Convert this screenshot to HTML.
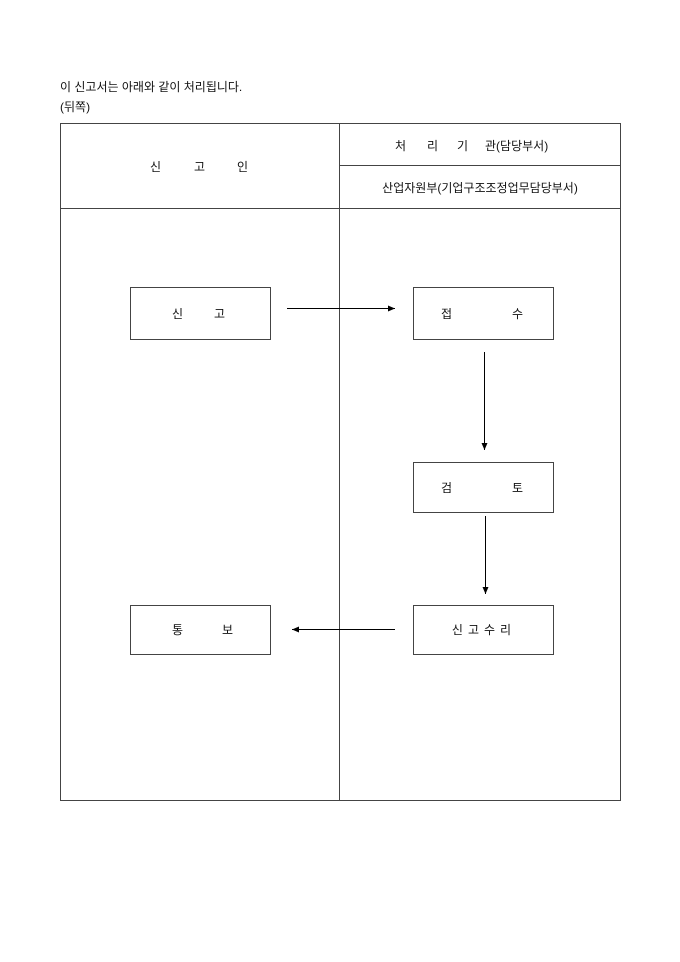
<!DOCTYPE html>
<html><head><meta charset="utf-8"><style>
html,body{margin:0;padding:0;background:#fff;}
svg{display:block;}
text{font-family:"Liberation Sans","Noto Sans CJK KR","NanumGothic",sans-serif;font-size:12px;fill:#111;}
</style></head><body>
<svg width="680" height="962" xmlns="http://www.w3.org/2000/svg">
<defs><marker id="a" markerWidth="8" markerHeight="8" refX="7" refY="4" orient="auto" markerUnits="userSpaceOnUse"><path d="M0,1 L7,4 L0,7 z" fill="#000"/></marker></defs>
<text x="60" y="91">이 신고서는 아래와 같이 처리됩니다.</text>
<text x="60" y="111">(뒤쪽)</text>
<g fill="none" stroke="#444" stroke-width="1">
<rect x="60.5" y="123.5" width="560" height="677"/>
<line x1="339.5" y1="123.5" x2="339.5" y2="800.5"/>
<line x1="60.5" y1="208.5" x2="620.5" y2="208.5"/>
<line x1="339.5" y1="165.5" x2="620.5" y2="165.5"/>
<rect x="130.5" y="287.5" width="140" height="52"/>
<rect x="413.5" y="287.5" width="140" height="52"/>
<rect x="413.5" y="462.5" width="140" height="50"/>
<rect x="413.5" y="605.5" width="140" height="49"/>
<rect x="130.5" y="605.5" width="140" height="49"/>
</g>
<g stroke="#000" stroke-width="1" marker-end="url(#a)">
<line x1="287" y1="308.5" x2="395" y2="308.5"/>
<line x1="484.5" y1="352" x2="484.5" y2="450"/>
<line x1="485.5" y1="516" x2="485.5" y2="594"/>
<line x1="395" y1="629.5" x2="292" y2="629.5"/>
</g>
<text x="150" y="171">신</text><text x="194" y="171">고</text><text x="237" y="171">인</text>
<text x="395" y="150">처</text><text x="427" y="150">리</text><text x="457" y="150">기</text><text x="485" y="150">관(담당부서)</text>
<text x="480" y="192" text-anchor="middle">산업자원부(기업구조조정업무담당부서)</text>
<text x="172" y="318">신</text><text x="214" y="318">고</text>
<text x="441" y="318">접</text><text x="512" y="318">수</text>
<text x="441" y="492">검</text><text x="512" y="492">토</text>
<text x="484" y="634" text-anchor="middle" letter-spacing="5">신고수리</text>
<text x="172" y="634">통</text><text x="222" y="634">보</text>
</svg>
</body></html>
